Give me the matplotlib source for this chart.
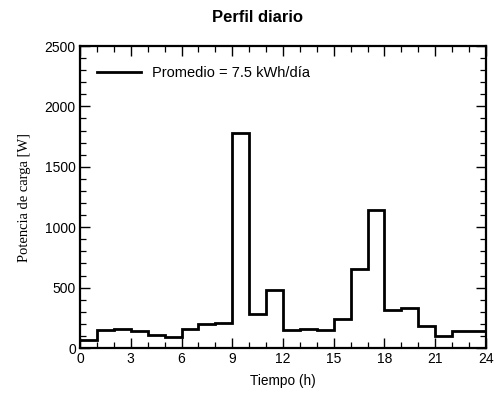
import matplotlib
matplotlib.use("Agg")
import matplotlib.pyplot as plt
import numpy as np
from matplotlib.ticker import MultipleLocator

hours = list(range(25))
power = [70, 145, 155, 140, 110, 90, 160, 200, 210, 1780, 280, 480,
         145, 155, 150, 240, 655, 1145, 315, 330, 180, 100, 140, 140]
xticks = [0, 3, 6, 9, 12, 15, 18, 21, 24]
yticks = [0, 500, 1000, 1500, 2000, 2500]
label = "Promedio = 7.5 kWh/día"

plt.rcParams['font.family'] = ['Liberation Sans', 'DejaVu Sans']

fig = plt.figure(figsize=(4.95, 3.96), dpi=100)
ax = fig.add_axes([80/495, 1-348/396, (486-80)/495, (348-46)/396])

ax.stairs(power, hours, baseline=None, color='black', linewidth=2.0, label=label)

ax.set_xlim(0, 24)
ax.set_ylim(0, 2500)
ax.set_xticks(xticks)
ax.set_yticks(yticks)
ax.xaxis.set_minor_locator(MultipleLocator(1))
ax.yaxis.set_minor_locator(MultipleLocator(100))
ax.tick_params(which='both', direction='in', top=True, right=True, labelsize=10, colors='black')
ax.tick_params(which='major', length=7, width=1.0, pad=3)
ax.tick_params(which='minor', length=4, width=0.9)
for s in ax.spines.values():
    s.set_linewidth(1.6)

fig.text(257/495, 1-17/396, "Perfil diario", fontsize=12, fontweight='bold',
         ha='center', va='center')
ax.set_xlabel("Tiempo (h)", fontsize=9.8, labelpad=6)
ax.set_ylabel("Potencia de carga [W]", fontsize=10.5, family='Liberation Serif', labelpad=10)

leg = ax.legend(loc='center left', frameon=False, fontsize=10.5, handlelength=3.0,
                handletextpad=0.8, borderaxespad=0.0, borderpad=0.0)
leg.set_bbox_to_anchor((97/495, 1-73/396), transform=fig.transFigure)

fig.savefig("out.png", dpi=100)
